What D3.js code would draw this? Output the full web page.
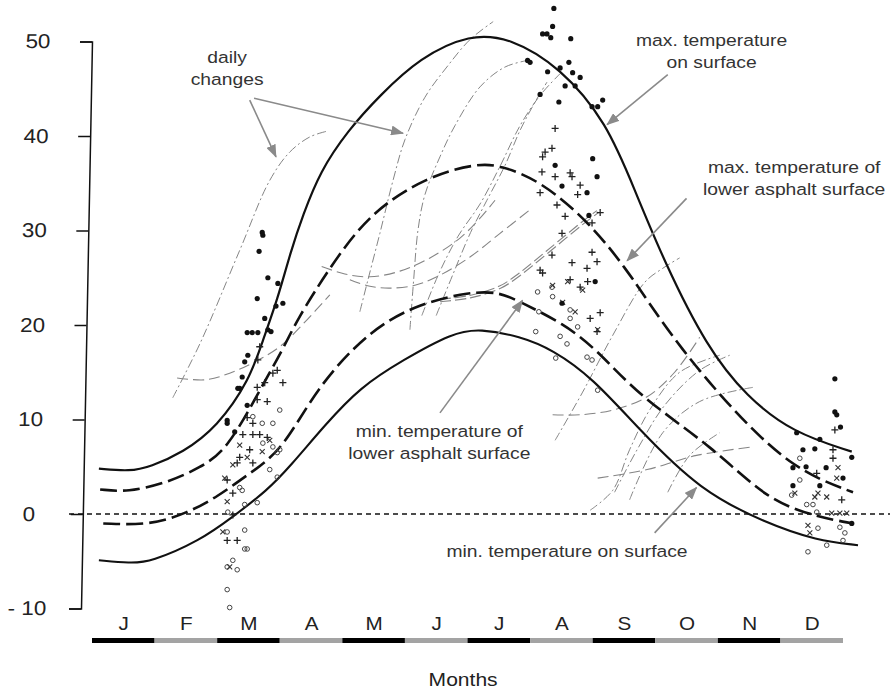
<!DOCTYPE html>
<html>
<head>
<meta charset="utf-8">
<script src="https://cdn.jsdelivr.net/npm/d3@7"></script>
<style>
  body { margin: 0; background: #fff; }
  svg { display: block; font-family: "Liberation Sans", Arial, sans-serif; }
</style>
</head>
<body>
<div id="chart"></div>
<script>
const months = ["J", "F", "M", "A", "M", "J", "J", "A", "S", "O", "N", "D"];
const yTicks = [50, 40, 30, 20, 10, 0, -10];

// [month, °C]
const maxSurface = [[0.11,4.8],[0.61,4.5],[0.93,5.0],[1.45,6.5],[2.00,9.2],[2.52,14.2],[2.73,18.4],[2.96,22.6],[3.18,27.9],[3.37,31.6],[3.64,36.2],[4.09,40.6],[4.60,44.3],[5.24,48.3],[6.04,50.8],[6.68,50.4],[7.48,47.3],[8.23,41.4],[8.67,34.3],[9.15,26.6],[9.82,17.7],[10.46,12.4],[11.20,8.6],[12.14,6.6]];
const maxLower = [[0.13,2.6],[0.56,2.3],[1.20,3.3],[1.73,4.9],[2.16,6.8],[2.68,13.1],[3.05,17.4],[3.27,20.5],[3.80,26.1],[4.44,31.9],[5.35,35.7],[6.15,37.1],[6.52,36.9],[7.16,35.3],[7.96,30.8],[8.55,25.8],[8.87,22.6],[9.39,17.7],[10.19,11.3],[11.20,4.7],[12.16,2.3]];
const minLower = [[0.18,-1.0],[0.93,-1.2],[1.52,0.1],[2.00,1.8],[2.52,4.3],[3.05,6.8],[3.59,13.4],[4.44,19.5],[5.24,22.3],[6.04,23.5],[6.52,23.5],[6.88,22.3],[7.52,20.2],[8.07,17.4],[8.75,12.4],[9.92,7.1],[10.78,1.5],[11.58,-0.3],[12.16,-1.0]];
const minSurface = [[0.11,-4.9],[0.61,-5.2],[0.93,-5.1],[1.73,-2.8],[2.25,-0.3],[2.80,2.5],[3.16,5.0],[3.72,9.4],[4.28,13.4],[4.97,16.3],[5.77,19.2],[6.20,19.6],[6.84,18.8],[7.36,17.4],[8.00,14.4],[8.75,8.9],[9.71,2.5],[10.78,-1.0],[11.58,-2.8],[12.24,-3.3]];

// measured points
const dots = [[2.72,29.8],[2.73,29.5],[2.67,27.8],[2.81,25.0],[2.97,24.4],[2.64,22.8],[2.94,22.0],[3.05,22.3],[2.76,20.7],[2.81,19.5],[2.86,19.3],[2.48,19.2],[2.56,19.2],[2.65,19.2],[2.49,16.8],[2.44,16.1],[2.40,14.5],[2.33,13.3],[2.36,13.3],[2.48,11.5],[2.16,9.9],[2.16,9.6],[2.28,8.7],
  [7.38,53.5],[7.36,51.6],[7.20,50.8],[7.27,50.8],[7.33,50.4],[7.65,50.3],[6.96,48.0],[7.00,47.8],[7.62,47.8],[7.28,46.8],[7.48,47.2],[7.68,46.7],[7.80,46.2],[7.56,45.3],[7.72,45.3],[7.16,44.4],[7.46,43.6],[8.16,43.8],[7.99,43.1],[8.08,43.1],[8.00,37.6],[7.40,36.9],[8.07,35.7],[7.51,34.7],[7.91,34.0],[7.94,31.6],[8.04,24.6],[7.51,22.3],
  [11.87,14.3],[11.87,10.8],[11.90,10.5],[11.96,9.2],[11.26,8.6],[11.63,7.9],[11.36,6.8],[11.55,6.9],[12.14,6.0],[11.73,4.9],[11.41,5.0],[12.00,3.8],[11.20,3.0],[11.63,3.0],[12.14,-1.0],[11.20,4.9]];
const pluses = [[2.68,17.7],[2.65,16.3],[2.64,13.4],[2.76,13.9],[3.05,13.9],[2.89,14.9],[2.96,15.2],[2.64,12.1],[2.80,11.9],[2.48,10.2],[2.57,9.6],[2.57,8.4],[2.41,8.4],[2.68,8.4],[2.80,8.1],[2.36,6.0],[2.32,5.4],[2.52,6.8],[2.57,5.4],[2.16,3.6],[2.25,2.2],[2.25,-0.1],[2.16,-2.8],[2.32,-2.8],
  [7.40,40.8],[7.35,38.7],[7.24,38.3],[7.20,37.8],[7.19,36.2],[7.64,36.1],[7.67,35.7],[7.40,35.7],[7.80,34.8],[7.76,33.8],[7.16,34.0],[7.43,32.7],[7.56,31.5],[8.12,31.9],[7.51,29.7],[7.99,30.8],[7.16,25.8],[7.20,25.5],[7.67,26.6],[7.91,26.0],[7.99,27.7],[8.07,26.7],[7.35,27.4],[7.80,24.0],[7.64,24.8],[7.92,24.6],[8.12,21.3],[7.96,20.7],[8.07,19.3],
  [11.87,8.9],[11.84,5.9],[11.84,6.8],[11.98,1.5],[11.58,4.3]];
const crosses = [[2.48,6.0],[2.25,5.2],[2.12,3.8],[2.16,1.3],[2.09,-1.9],[2.20,-5.6],[2.36,7.3],[2.84,7.8],[2.72,6.6],
  [7.60,24.6],[7.52,22.4],[7.36,24.2],[7.84,23.7],[8.08,19.5],[7.72,21.4],
  [11.92,4.9],[11.90,3.8],[11.60,2.2],[11.74,1.8],[11.55,1.8],[11.82,0.1],[12.06,0.1],[11.95,0.1],[11.23,2.2],[11.44,-1.2],[11.47,-2.0]];
const rings = [[3.00,11.0],[2.57,10.3],[2.72,9.6],[2.89,9.6],[2.73,7.5],[2.89,7.1],[2.96,6.5],[3.00,6.8],[2.84,4.7],[2.96,3.9],[2.36,2.8],[2.40,2.5],[2.64,1.2],[2.44,1.0],[2.17,0.2],[2.44,-1.7],[2.16,-1.9],[2.48,-3.7],[2.44,-3.7],[2.25,-4.9],[2.16,-5.6],[2.32,-5.9],[2.16,-8.0],[2.20,-9.9],
  [7.12,23.5],[7.36,23.0],[7.14,21.4],[7.09,19.3],[7.48,18.8],[7.59,18.0],[7.41,16.5],[7.91,16.6],[7.99,16.3],[8.08,13.1],[7.64,20.7],[7.76,19.8],[7.35,24.0],[7.64,21.6],
  [11.31,5.9],[11.31,3.6],[11.42,1.0],[11.52,1.0],[11.60,-1.5],[11.44,-4.0],[12.00,-2.8],[11.74,-3.3],[11.18,2.0],[11.58,0.2],[11.95,-1.4],[12.03,-2.0]];

// daily changes
const dailyDashDot = [
  [[1.29,12.3],[1.73,18.1],[2.36,27.9],[2.84,35.3],[3.16,38.3],[3.48,39.9],[3.75,40.5]],
  [[4.28,21.4],[4.41,24.8],[4.60,29.7],[4.81,35.3],[5.00,39.6],[5.32,44.1],[5.67,47.3],[6.04,50.2],[6.41,52.1]],
  [[5.08,19.5],[5.14,24.8],[5.21,30.1],[5.32,33.8],[5.56,37.8],[5.80,41.1],[6.20,45.2],[6.60,47.3],[6.96,48.0]],
  [[5.27,21.0],[5.54,25.4],[5.85,29.4],[6.20,32.8],[6.52,36.8],[6.84,41.1],[7.16,44.3],[7.48,46.6]],
  [[5.50,21.0],[5.77,25.4],[6.05,29.8],[6.31,33.2],[6.60,36.9],[6.84,40.6],[7.08,43.6],[7.27,45.7]],
  [[7.40,7.8],[7.84,12.9],[8.32,18.9],[8.83,24.5],[9.12,26.0],[9.39,27.1]],
  [[7.96,0.4],[8.32,2.5],[8.59,6.8],[8.91,11.0],[9.39,15.0],[10.03,16.8]],
  [[8.59,1.5],[9.12,8.6],[9.71,11.9],[10.56,13.4]],
  [[9.20,2.3],[9.55,6.2],[10.03,8.6]],
  [[8.35,2.3],[8.71,6.8],[9.15,11.5],[9.71,15.2],[10.19,16.8]]
];
const dailyLongDash = [
  [[1.36,14.4],[1.81,14.2],[2.20,14.9],[2.60,16.1],[3.00,17.7],[3.40,20.3],[3.80,23.2]],
  [[3.67,26.2],[4.04,25.4],[4.44,25.1],[4.92,25.7],[5.40,27.1],[5.88,29.2],[6.20,31.3],[6.44,33.2]],
  [[4.12,24.8],[4.44,24.1],[4.76,23.9],[5.16,24.2],[5.51,25.1],[6.04,27.2],[6.52,29.7],[7.00,32.2]],
  [[7.36,10.5],[7.80,10.5],[8.32,11.0],[8.87,12.4],[9.31,15.0],[9.71,18.7]],
  [[8.08,3.8],[8.87,4.7],[9.66,6.2],[10.56,7.1]]
];
const dailyDouble = [
  [[5.56,22.6],[6.04,23.0],[6.52,24.0],[6.84,25.4],[7.27,27.7],[7.84,30.8],[8.08,32.0]]
];

// annotations: [text lines], anchor [month, °C] of first baseline, arrows [from, to]
const notes = [
  { lines: ["daily", "changes"], at: [2.16, 47.7] },
  { lines: ["max. temperature", "on surface"], at: [9.90, 49.5] },
  { lines: ["max. temperature of", "lower asphalt surface"], at: [11.22, 36.1] },
  { lines: ["min. temperature of", "lower asphalt surface"], at: [5.55, 8.1] },
  { lines: ["min. temperature on surface"], at: [7.59, -4.6] }
];
const arrows = [
  [[2.52, 43.8], [2.94, 37.8]],
  [[2.59, 44.0], [4.97, 40.3]],
  [[9.20, 46.5], [8.23, 41.2]],
  [[9.50, 33.4], [8.55, 26.8]],
  [[5.56, 10.7], [6.88, 22.6]],
  [[8.99, -2.0], [9.66, 2.8]]
];

const width = 890, height = 691;
const stretch = 1.17;

const svg = d3.select("#chart").append("svg")
  .attr("width", width)
  .attr("height", height);

const x = d3.scaleLinear().domain([0, 12]).range([92, 843]);
const y = d3.scaleLinear().domain([-10, 50]).range([608.5, 41.5]);

svg.append("defs").append("marker")
  .attr("id", "head")
  .attr("markerUnits", "userSpaceOnUse")
  .attr("markerWidth", 13).attr("markerHeight", 10)
  .attr("refX", 12).attr("refY", 5)
  .attr("orient", "auto")
  .append("path")
  .attr("d", "M0,0L13,5L0,10Z")
  .attr("fill", "#8a8a8a");

// zero line
svg.append("line")
  .attr("x1", 69).attr("x2", width)
  .attr("y1", y(0)).attr("y2", y(0))
  .attr("stroke", "#111")
  .attr("stroke-width", 1.4)
  .attr("stroke-dasharray", "5,4");

const smooth = d3.line()
  .x(d => x(d[0]))
  .y(d => y(d[1]))
  .curve(d3.curveCatmullRom.alpha(0.5));
const soft = d3.line()
  .x(d => x(d[0]))
  .y(d => y(d[1]))
  .curve(d3.curveBasis);

// daily change lines
dailyDashDot.forEach(l => {
  svg.append("path").datum(l)
    .attr("d", smooth).attr("fill", "none")
    .attr("stroke", "#858585").attr("stroke-width", 1)
    .attr("stroke-dasharray", "9,3,2,3");
});
dailyLongDash.forEach(l => {
  svg.append("path").datum(l)
    .attr("d", smooth).attr("fill", "none")
    .attr("stroke", "#858585").attr("stroke-width", 1.1)
    .attr("stroke-dasharray", "11,5");
});
dailyDouble.forEach(l => {
  svg.append("path").datum(l)
    .attr("d", smooth).attr("fill", "none")
    .attr("stroke", "#858585").attr("stroke-width", 3.6)
    .attr("stroke-dasharray", "11,4");
  svg.append("path").datum(l)
    .attr("d", smooth).attr("fill", "none")
    .attr("stroke", "#fff").attr("stroke-width", 1.4);
});

// main curves
const curves = [
  { data: maxSurface, w: 2.2, dash: null },
  { data: maxLower, w: 2.6, dash: "17,6" },
  { data: minLower, w: 2.6, dash: "17,6" },
  { data: minSurface, w: 2.1, dash: null }
];
curves.forEach(c => {
  svg.append("path").datum(c.data)
    .attr("d", soft).attr("fill", "none")
    .attr("stroke", "#111").attr("stroke-width", c.w)
    .attr("stroke-dasharray", c.dash);
});

// measured points
svg.append("g").selectAll("circle").data(rings).join("circle")
  .attr("cx", d => x(d[0])).attr("cy", d => y(d[1])).attr("r", 2.3)
  .attr("fill", "none").attr("stroke", "#444").attr("stroke-width", 1);
svg.append("g").selectAll("path").data(crosses).join("path")
  .attr("transform", d => `translate(${x(d[0])},${y(d[1])})`)
  .attr("d", "M-2.5,-2.5L2.5,2.5M-2.5,2.5L2.5,-2.5")
  .attr("stroke", "#333").attr("stroke-width", 1.1);
svg.append("g").selectAll("path").data(pluses).join("path")
  .attr("transform", d => `translate(${x(d[0])},${y(d[1])})`)
  .attr("d", "M-3.5,0H3.5M0,-3.5V3.5")
  .attr("stroke", "#222").attr("stroke-width", 1.3);
svg.append("g").selectAll("circle").data(dots).join("circle")
  .attr("cx", d => x(d[0])).attr("cy", d => y(d[1])).attr("r", 2.6)
  .attr("fill", "#111");

// y axis (slightly leaning, as in the scan)
const yAxis = d3.axisLeft(y)
  .tickValues(yTicks)
  .tickSize(12)
  .tickPadding(0)
  .tickFormat(d => d < 0 ? "- " + Math.abs(d) : d);
const gy = svg.append("g")
  .attr("transform", "translate(92.8,0) skewX(-1.11)")
  .call(yAxis);
gy.select(".domain").attr("stroke", "#111").attr("stroke-width", 1.5);
gy.selectAll(".tick line").attr("stroke", "#111").attr("stroke-width", 1.5);
gy.selectAll(".tick text")
  .attr("x", -54 / 1.12)
  .attr("text-anchor", "middle")
  .attr("transform", "scale(1.12,1)")
  .attr("fill", "#222")
  .style("font-size", "20px")
  .style("font-family", "'Liberation Sans', Arial, sans-serif");

// month bar and labels
const bar = svg.append("g");
bar.selectAll("rect").data(months).join("rect")
  .attr("x", (d, i) => x(i))
  .attr("width", (d, i) => x(i + 1) - x(i))
  .attr("y", 638).attr("height", 5)
  .attr("fill", (d, i) => i % 2 === 0 ? "#000" : "#a3a3a3");

const xAxis = d3.axisBottom(x)
  .tickValues(d3.range(12).map(i => i + 0.5))
  .tickSize(0)
  .tickPadding(2)
  .tickFormat((d, i) => months[i]);
const gx = svg.append("g").attr("transform", "translate(0,615)").call(xAxis);
gx.select(".domain").remove();
gx.selectAll(".tick text")
  .attr("transform", "scale(1.15,1)")
  .attr("fill", "#222")
  .style("font-size", "18px")
  .style("font-family", "'Liberation Sans', Arial, sans-serif");

svg.append("text")
  .attr("transform", `translate(${x(5.93)},686) scale(1.17,1)`)
  .attr("text-anchor", "middle")
  .attr("fill", "#222")
  .style("font-size", "18px")
  .text("Months");

// annotations
arrows.forEach(a => {
  svg.append("line")
    .attr("x1", x(a[0][0])).attr("y1", y(a[0][1]))
    .attr("x2", x(a[1][0])).attr("y2", y(a[1][1]))
    .attr("stroke", "#8a8a8a").attr("stroke-width", 1.6)
    .attr("marker-end", "url(#head)");
});
notes.forEach(n => {
  n.lines.forEach((t, i) => {
    svg.append("text")
      .attr("transform", `translate(${x(n.at[0])},${y(n.at[1]) + i * 22}) scale(${stretch},1)`)
      .attr("text-anchor", "middle")
      .attr("fill", "#333")
      .style("font-size", "16.5px")
      .text(t);
  });
});
</script>
</body>
</html>
